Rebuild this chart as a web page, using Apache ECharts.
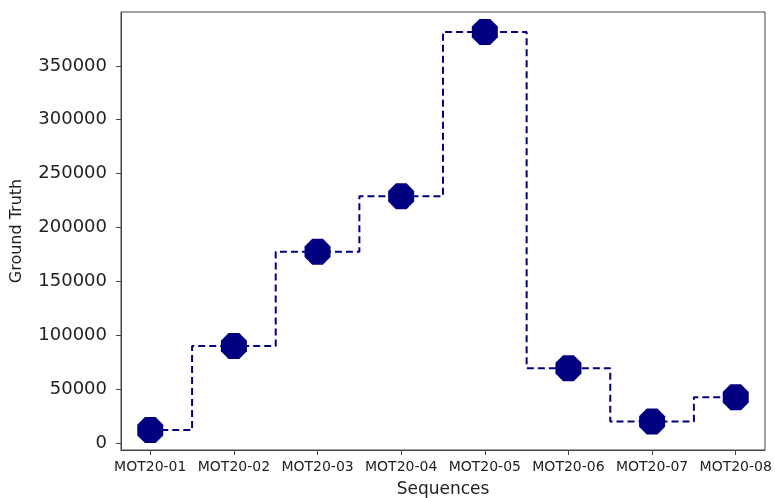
<!DOCTYPE html>
<html>
<head>
<meta charset="utf-8">
<script src="https://cdn.jsdelivr.net/npm/echarts@6/dist/echarts.min.js"></script>
<style>
  html, body { margin: 0; padding: 0; background: #fff; }
  #chart { width: 775px; height: 498px; }
</style>
</head>
<body>
<div id="chart"></div>
<script>
// sequences and ground truth counts
var sequences = ["MOT20-01", "MOT20-02", "MOT20-03", "MOT20-04", "MOT20-05", "MOT20-06", "MOT20-07", "MOT20-08"];
var groundTruth = [12000, 90000, 177500, 229000, 381500, 69500, 20000, 42500];
var yTicks = [0, 50000, 100000, 150000, 200000, 250000, 300000, 350000];
var xTicks = [0, 1, 2, 3, 4, 5, 6, 7];

var points = groundTruth.map(function (v, i) { return [i, v]; });

// octagon marker
var octagon = "path://M-0.41,-1L0.41,-1L1,-0.41L1,0.41L0.41,1L-0.41,1L-1,0.41L-1,-0.41Z";

var myChart = echarts.init(document.getElementById("chart"));
var font = "DejaVu Sans";

var option = {
  animation: false,
  grid: {
    left: 121, right: 10, top: 12, bottom: 48,
    outerBoundsMode: "none",
    containLabel: false,
    show: true, borderColor: "#444", borderWidth: 1
  },
  xAxis: {
    type: "value",
    min: -0.35,
    max: 7.35,
    name: "Sequences",
    nameLocation: "middle",
    nameGap: 31,
    nameTextStyle: { fontFamily: font, fontSize: 17, color: "#222" },
    axisLine: { show: true, onZero: false, lineStyle: { color: "#444", width: 1 } },
    axisTick: { show: true, customValues: xTicks, length: 5, lineStyle: { color: "#444" } },
    axisLabel: {
      customValues: xTicks,
      margin: 10,
      fontFamily: font,
      fontSize: 14,
      color: "#222",
      formatter: function (v) { return sequences[Math.round(v)]; }
    },
    splitLine: { show: false }
  },
  yAxis: {
    type: "value",
    min: -6475,
    max: 399975,
    name: "Ground Truth",
    nameLocation: "middle",
    nameGap: 96,
    nameTextStyle: { fontFamily: font, fontSize: 16, color: "#222" },
    axisLine: { show: true, onZero: false, lineStyle: { color: "#444", width: 1 } },
    axisTick: { show: true, customValues: yTicks, length: 5, lineStyle: { color: "#444" } },
    axisLabel: {
      customValues: yTicks,
      margin: 14,
      fontFamily: font,
      fontSize: 18,
      color: "#222",
      formatter: function (v) { return String(v); }
    },
    splitLine: { show: false }
  },
  series: [
    {
      name: "Ground Truth",
      type: "line",
      step: "middle",
      data: points,
      symbol: octagon,
      symbolSize: 26,
      itemStyle: { color: "#000080" },
      lineStyle: { color: "#000080", width: 2, type: [7, 4] }
    }
  ]
};
myChart.setOption(option);
</script>
</body>
</html>
